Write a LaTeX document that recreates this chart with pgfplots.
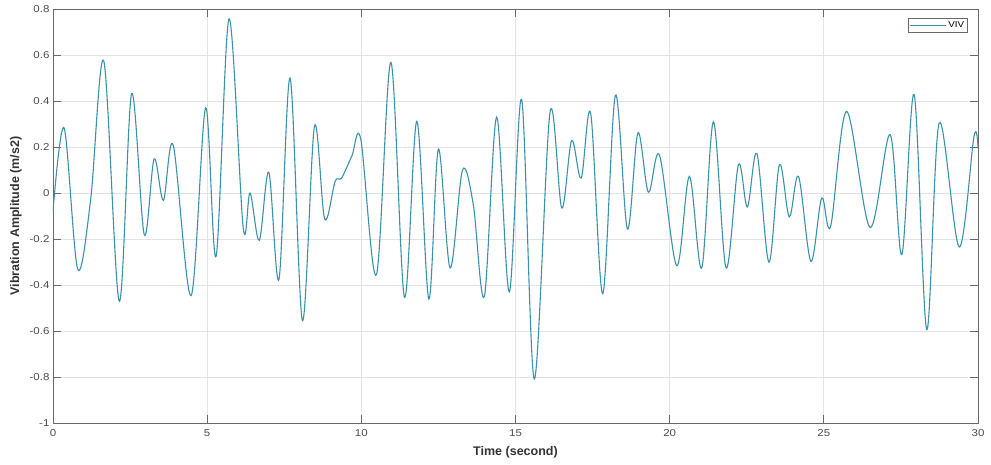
\documentclass[border=0pt]{standalone}
\usepackage{fontspec}
\setmainfont{Liberation Sans}
\newfontfamily\tickfont{Liberation Sans}[FakeStretch=1.15]
\usepackage{pgfplots}
\pgfplotsset{compat=1.18}
\definecolor{vivc}{RGB}{58,146,170}
\definecolor{axgray}{RGB}{105,105,105}
\definecolor{tickc}{RGB}{75,75,75}
\begin{document}
\begin{tikzpicture}
\begin{axis}[
  scale only axis, width=925pt, height=414pt,
  xmin=0, xmax=30, ymin=-1, ymax=0.8,
  xtick={0,5,10,15,20,25,30},
  ytick={-1,-0.8,-0.6,-0.4,-0.2,0,0.2,0.4,0.6,0.8},
  grid=major,
  major grid style={draw=gray!22, line width=0.7pt},
  axis line style={draw=axgray, line width=0.8pt},
  tick style={draw=axgray, line width=0.8pt},
  major tick length=8pt,
  tick align=inside,
  ticklabel style={font=\tickfont\fontsize{10}{12}\selectfont, text=tickc},
  xticklabel style={yshift=-3pt},
  /pgf/number format/assume math mode=true,
  xlabel={\textbf{Time (second)}},
  ylabel={\textbf{Vibration Amplitude (m/s2)}},
  label style={font=\fontsize{12.5}{14}\selectfont, text=black!80},
  xlabel style={at={(axis description cs:0.5,-0.071)}, anchor=center},
  ylabel style={at={(axis description cs:-0.040,0.5)}, anchor=center},
  legend style={at={(axis description cs:0.989,0.978)}, anchor=north east,
    font=\tickfont\fontsize{8.5}{9.5}\selectfont, draw=axgray, line width=0.8pt,
    inner sep=1.2pt, row sep=0pt},
  legend cell align=left,
  legend image code/.code={\draw[#1] (0pt,0pt) -- (36pt,0pt);},
]
\addplot[vivc, line width=1.1pt, smooth, tension=0.55] coordinates {
(0.00,-0.08) (0.36,0.283) (0.80,-0.33) (1.22,-0.03) (1.65,0.572)
(2.15,-0.471) (2.55,0.432) (2.96,-0.181) (3.28,0.148) (3.58,-0.032)
(3.90,0.207) (4.48,-0.446) (4.95,0.37) (5.29,-0.275) (5.71,0.757)
(6.17,-0.152) (6.39,0.0) (6.69,-0.206) (7.00,0.09) (7.33,-0.374)
(7.69,0.50) (8.09,-0.555) (8.48,0.29) (8.81,-0.113) (9.15,0.05)
(9.36,0.065) (9.69,0.16) (9.98,0.235) (10.49,-0.355) (10.96,0.568)
(11.40,-0.454) (11.80,0.312) (12.19,-0.461) (12.50,0.191) (12.88,-0.326)
(13.28,0.099) (13.63,-0.05) (13.99,-0.449) (14.39,0.33) (14.80,-0.43)
(15.20,0.406) (15.61,-0.809) (16.12,0.351) (16.50,-0.065) (16.82,0.228)
(17.13,0.065) (17.44,0.345) (17.83,-0.438) (18.24,0.425) (18.63,-0.157)
(18.97,0.261) (19.31,0.003) (19.67,0.164) (20.23,-0.316) (20.64,0.072)
(21.04,-0.326) (21.42,0.309) (21.83,-0.326) (22.23,0.123) (22.52,-0.061)
(22.83,0.171) (23.22,-0.301) (23.56,0.123) (23.88,-0.104) (24.18,0.072)
(24.58,-0.297) (24.93,-0.022) (25.22,-0.145) (25.74,0.355)
(26.50,-0.15) (27.15,0.254) (27.53,-0.268) (27.93,0.428)
(28.34,-0.594) (28.74,0.304) (29.39,-0.235) (29.87,0.246) (30.00,0.20)
};
\addlegendentry{VIV}
\coordinate (sw) at (rel axis cs:0,0);
\coordinate (ne) at (rel axis cs:1,1);
\end{axis}
\pgfresetboundingbox
\path ([shift={(-53pt,-42pt)}]sw) rectangle ([shift={(13pt,9pt)}]ne);
\end{tikzpicture}
\end{document}
